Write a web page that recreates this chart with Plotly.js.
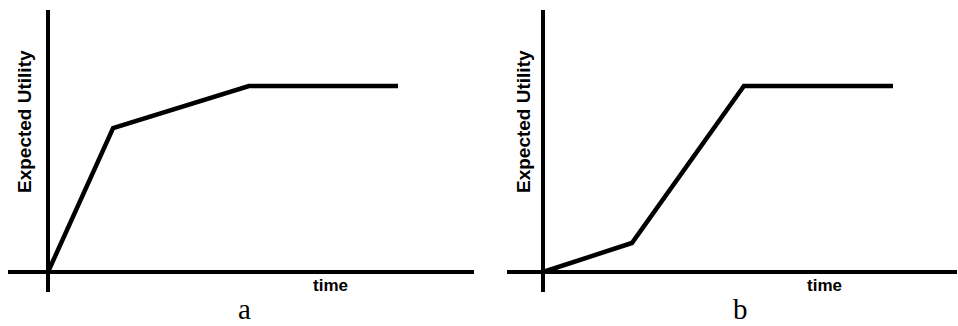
<!DOCTYPE html>
<html>
<head>
<meta charset="utf-8">
<script src="https://cdn.plot.ly/plotly-3.0.1.min.js"></script>
<style>html,body{margin:0;padding:0;background:#fff;}#chart{width:958px;height:326px;}</style>
</head>
<body>
<div id="chart"></div>
<script>
// Panel a: expected utility over time
const timeA = [0, 1.86, 5.74, 10];
const utilityA = [0, 7.74, 10, 10];
// Panel b
const timeB = [0, 2.54, 5.74, 10];
const utilityB = [0, 1.56, 10, 10];
const yLabel = "Expected Utility";
const xLabel = "time";
const panelLabels = ["a", "b"];

const W = 958, H = 326;
const px = v => v / W;
const py = v => 1 - v / H;

const lineStyle = {color: "#000", width: 4.5};
const traces = [
  {x: timeA, y: utilityA, xaxis: "x", yaxis: "y", mode: "lines", line: lineStyle, hoverinfo: "skip"},
  {x: timeB, y: utilityB, xaxis: "x2", yaxis: "y2", mode: "lines", line: lineStyle, hoverinfo: "skip"}
];

const axBase = {
  showgrid: false, showticklabels: false, ticks: "", showline: false,
  zeroline: true, zerolinecolor: "#000", zerolinewidth: 4, fixedrange: true
};
const yRange = [-1.075, 14.086];
const yDomain = [py(292), py(10)];

const labelFont = {family: "Liberation Sans, Arial, Helvetica, sans-serif", size: 19, color: "#000"};
const timeFont = {family: "Liberation Sans, Arial, Helvetica, sans-serif", size: 17, color: "#000"};
const letterFont = {family: "Liberation Serif, DejaVu Serif, serif", size: 29, color: "#000"};

const layout = {
  width: W, height: H,
  margin: {l: 0, r: 0, t: 0, b: 0},
  paper_bgcolor: "#fff", plot_bgcolor: "rgba(0,0,0,0)",
  showlegend: false,
  xaxis: Object.assign({}, axBase, {domain: [px(8), px(474)], range: [-1.1429, 12.171]}),
  yaxis: Object.assign({}, axBase, {domain: yDomain, range: yRange}),
  xaxis2: Object.assign({}, axBase, {domain: [px(507), px(957)], range: [-1.029, 11.829], anchor: "y2"}),
  yaxis2: Object.assign({}, axBase, {domain: yDomain, range: yRange, anchor: "x2"}),
  annotations: [
    {text: "<b>" + yLabel + "</b>", xref: "paper", yref: "paper", x: px(24), y: py(122), textangle: -90, showarrow: false, font: labelFont, xanchor: "center", yanchor: "middle"},
    {text: "<b>" + yLabel + "</b>", xref: "paper", yref: "paper", x: px(523), y: py(122), textangle: -90, showarrow: false, font: labelFont, xanchor: "center", yanchor: "middle"},
    {text: "<b>" + xLabel + "</b>", xref: "paper", yref: "paper", x: px(330), y: py(285), showarrow: false, font: timeFont, xanchor: "center", yanchor: "middle"},
    {text: "<b>" + xLabel + "</b>", xref: "paper", yref: "paper", x: px(824), y: py(285), showarrow: false, font: timeFont, xanchor: "center", yanchor: "middle"},
    {text: panelLabels[0], xref: "paper", yref: "paper", x: px(244), y: 0, showarrow: false, font: letterFont, xanchor: "center", yanchor: "bottom", borderpad: 0},
    {text: panelLabels[1], xref: "paper", yref: "paper", x: px(740), y: 0, showarrow: false, font: letterFont, xanchor: "center", yanchor: "bottom", borderpad: 0}
  ]
};

Plotly.newPlot("chart", traces, layout, {staticPlot: true, displayModeBar: false});
</script>
</body>
</html>
